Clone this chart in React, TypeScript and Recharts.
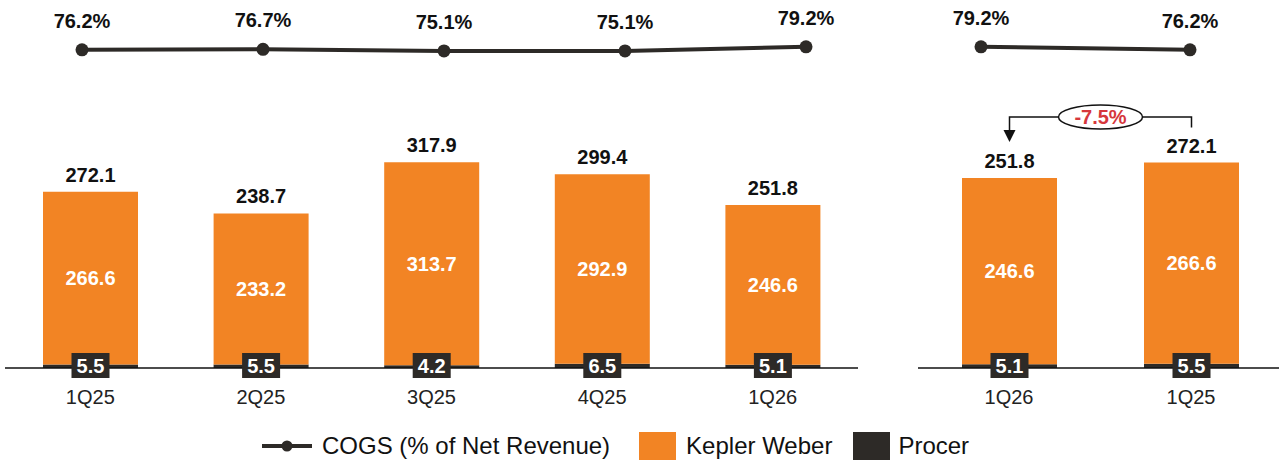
import { BarChart, Bar, LineChart, Line, XAxis, YAxis, LabelList } from 'recharts';

const periods = ['1Q25', '2Q25', '3Q25', '4Q25', '1Q26'];
const keplerWeber = [266.6, 233.2, 313.7, 292.9, 246.6];
const procer = [5.5, 5.5, 4.2, 6.5, 5.1];
const totals = [272.1, 238.7, 317.9, 299.4, 251.8];
const cogsPct = [76.2, 76.7, 75.1, 75.1, 79.2];

const comparePeriods = ['1Q26', '1Q25'];
const compareKepler = [246.6, 266.6];
const compareProcer = [5.1, 5.5];
const compareTotals = [251.8, 272.1];
const compareCogs = [79.2, 76.2];
const changeLabel = '-7.5%';

const ORANGE = '#F28424';
const DARK = '#2D2A27';
const RED = '#D6373C';
const FONT = '"Liberation Sans", Arial, sans-serif';

const barData = periods.map((p, i) => ({ period: p, kepler: keplerWeber[i], procer: procer[i], total: totals[i] }));
const compareBarData = comparePeriods.map((p, i) => ({
  period: p, kepler: compareKepler[i], procer: compareProcer[i], total: compareTotals[i],
}));
const lineData = periods.map((p, i) => ({ period: p, cogs: cogsPct[i] }));
const compareLineData = comparePeriods.map((p, i) => ({ period: p, cogs: compareCogs[i] }));

const ANNOT_Y = 117;

function ProcerLabel(props: any) {
  const { x, y, width, height, value } = props;
  const cx = x + width / 2;
  const bottom = y + height;
  return (
    <g>
      <rect x={cx - 19} y={bottom - 15} width={38} height={25} fill={DARK} />
      <text x={cx} y={bottom - 2} textAnchor="middle" dominantBaseline="central" fill="#fff"
        fontFamily={FONT} fontWeight="bold" fontSize={20}>
        {value.toFixed(1)}
      </text>
    </g>
  );
}

function makeTotalLabel(band: number, annotate: boolean) {
  return (props: any) => {
    const { x, y, width, value, index } = props;
    const cx = x + width / 2;
    const label = (
      <text x={cx} y={y - 10} textAnchor="middle" fill="#111" fontFamily={FONT} fontWeight="bold" fontSize={20}>
        {value.toFixed(1)}
      </text>
    );
    if (!annotate) return label;
    if (index === 0) {
      const mid = cx + band / 2;
      const tip = y - 36;
      return (
        <g>
          {label}
          <polyline points={`${mid - 42},${ANNOT_Y} ${cx},${ANNOT_Y} ${cx},${tip - 10}`} fill="none" stroke="#111" strokeWidth={1.5} />
          <polygon points={`${cx - 6},${tip - 12} ${cx + 6},${tip - 12} ${cx},${tip}`} fill="#111" />
        </g>
      );
    }
    const mid = cx - band / 2;
    return (
      <g>
        {label}
        <polyline points={`${mid + 42},${ANNOT_Y} ${cx},${ANNOT_Y} ${cx},${y - 35}`} fill="none" stroke="#111" strokeWidth={1.5} />
        <ellipse cx={mid} cy={ANNOT_Y} rx={42} ry={12} fill="#fff" stroke="#111" strokeWidth={1.5} />
        <text x={mid} y={ANNOT_Y + 7} textAnchor="middle" fill={RED} fontFamily={FONT} fontWeight="bold" fontSize={20}>
          {changeLabel}
        </text>
      </g>
    );
  };
}

function PctLabel(props: any) {
  const { x, y, value } = props;
  return (
    <text x={x} y={y - 22} textAnchor="middle" fill="#111" fontFamily={FONT} fontWeight="bold" fontSize={20}>
      {value.toFixed(1)}%
    </text>
  );
}

function CostBars({ data, width, left, right, annotate, yMax }: any) {
  const band = (width - left - right) / data.length;
  return (
    <BarChart width={width} height={420} data={data} margin={{ top: 109, right, left, bottom: 22 }} barSize={95}>
      <XAxis dataKey="period" height={30} axisLine={{ stroke: '#111', strokeWidth: 1.5 }} tickLine={false}
        tickMargin={16} tick={{ fill: '#222', fontSize: 20, fontFamily: FONT }} />
      <YAxis hide domain={[0, yMax]} />
      <Bar dataKey="procer" stackId="a" fill={DARK} isAnimationActive={false}>
        <LabelList dataKey="procer" content={ProcerLabel} />
      </Bar>
      <Bar dataKey="kepler" stackId="a" fill={ORANGE} isAnimationActive={false}>
        <LabelList dataKey="kepler" position="center" fill="#fff" fontFamily={FONT} fontWeight="bold" fontSize={20}
          formatter={(v: any) => Number(v).toFixed(1)} />
        <LabelList dataKey="total" content={makeTotalLabel(band, annotate)} />
      </Bar>
    </BarChart>
  );
}

function CogsLine({ data, width, left, right }: any) {
  return (
    <LineChart width={width} height={130} data={data} margin={{ top: 26, right, left, bottom: 4 }}>
      <XAxis dataKey="period" hide scale="point" padding={{ left: 0, right: 0 }} />
      <YAxis hide domain={[0, 100]} />
      <Line dataKey="cogs" stroke={DARK} strokeWidth={4} isAnimationActive={false}
        dot={{ r: 6.5, fill: DARK, stroke: DARK, strokeWidth: 0 }}>
        <LabelList dataKey="cogs" content={PctLabel} />
      </Line>
    </LineChart>
  );
}

function LegendBox() {
  const text = { fontFamily: FONT, fontSize: 24, color: '#111', whiteSpace: 'nowrap' as const };
  return (
    <div style={{ position: 'absolute', left: 262, top: 431, height: 30, display: 'flex', alignItems: 'center' }}>
      <svg width={50} height={14}>
        <line x1={0} y1={7} x2={50} y2={7} stroke={DARK} strokeWidth={4} />
        <circle cx={25} cy={7} r={5.5} fill={DARK} />
      </svg>
      <span style={{ ...text, marginLeft: 10 }}>COGS (% of Net Revenue)</span>
      <span style={{ width: 37, height: 28, background: ORANGE, marginLeft: 29 }} />
      <span style={{ ...text, marginLeft: 10 }}>Kepler Weber</span>
      <span style={{ width: 37, height: 28, background: DARK, marginLeft: 21 }} />
      <span style={{ ...text, marginLeft: 8 }}>Procer</span>
    </div>
  );
}

export default function App() {
  return (
    <div style={{ position: 'absolute', left: 0, top: 0, width: 1279, height: 462, overflow: 'hidden', background: '#fff' }}>
      <div style={{ position: 'absolute', left: 0, top: 0 }}>
        <CostBars data={barData} width={870} left={5} right={12} annotate={false} yMax={400} />
      </div>
      <div style={{ position: 'absolute', left: 910, top: 0 }}>
        <CostBars data={compareBarData} width={372} left={8} right={0} annotate={true} yMax={343} />
      </div>
      <div style={{ position: 'absolute', left: 0, top: 0 }}>
        <CogsLine data={lineData} width={900} left={82} right={94} />
      </div>
      <div style={{ position: 'absolute', left: 900, top: 0 }}>
        <CogsLine data={compareLineData} width={379} left={81} right={89} />
      </div>
      <LegendBox />
    </div>
  );
}
